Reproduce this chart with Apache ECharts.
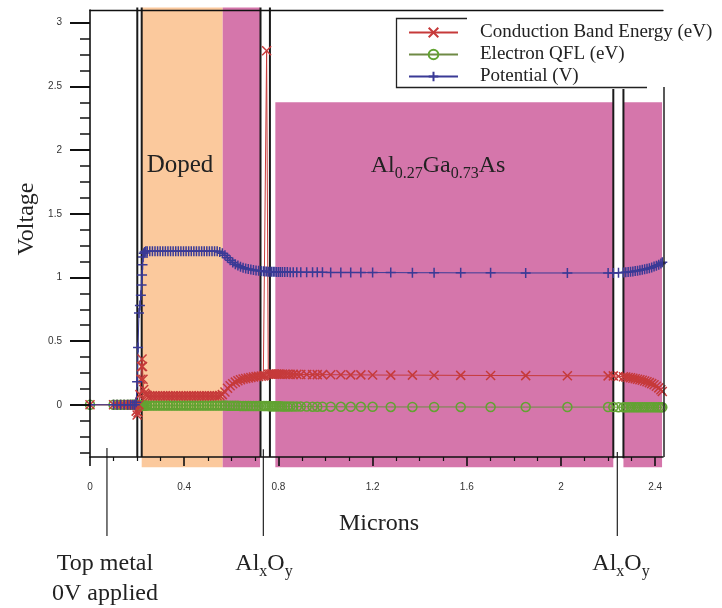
<!DOCTYPE html>
<html>
<head>
<meta charset="utf-8">
<script src="https://cdn.jsdelivr.net/npm/echarts@6/dist/echarts.min.js"></script>
<style>
html,body{margin:0;padding:0;background:#fff;}
#chart{width:722px;height:608px;}
</style>
</head>
<body>
<div id="chart"></div>
<script>
// ---------- data ----------
const seriesNames = ['Conduction Band Energy (eV)', 'Electron QFL (eV)', 'Potential (V)'];

const microns = [
  0, 0.1, 0.115, 0.13, 0.145, 0.16, 0.172, 0.182, 0.19, 0.196,
  0.2, 0.204, 0.208, 0.212, 0.216, 0.219, 0.221, 0.223, 0.225, 0.228, 0.232, 0.237,
  0.243, 0.254, 0.265, 0.276, 0.287, 0.298, 0.309, 0.32, 0.331, 0.342, 0.353, 0.364, 0.375, 0.386, 0.397,
  0.408, 0.419, 0.43, 0.441, 0.452, 0.463, 0.474, 0.485, 0.496, 0.507, 0.518, 0.529, 0.54, 0.551,
  0.562, 0.573, 0.584, 0.595, 0.606, 0.617, 0.628, 0.639, 0.65, 0.661, 0.672, 0.683, 0.694, 0.705, 0.716, 0.727, 0.736,
  0.743, 0.75, 0.757,
  0.764, 0.771, 0.778, 0.785, 0.792, 0.8, 0.808, 0.817, 0.827, 0.838, 0.85, 0.863, 0.878, 0.895, 0.92,
  0.945, 0.965, 0.987, 1.022, 1.065, 1.107, 1.15, 1.2, 1.277, 1.369, 1.461, 1.574, 1.701, 1.85,
  2.027, 2.2, 2.222,
  2.244,
  2.265, 2.275, 2.285, 2.295, 2.305, 2.315, 2.325, 2.335, 2.345, 2.355, 2.365, 2.375, 2.385, 2.395, 2.405, 2.415, 2.424, 2.43
];

const conductionBand = [
  0, 0, 0, 0, 0, 0, 0, 0, 0, -0.05,
  -0.08, -0.06, 0.0, 0.08, 0.2, 0.3, 0.36, 0.3, 0.2, 0.12, 0.09, 0.08,
  0.072, 0.07, 0.07, 0.07, 0.07, 0.07, 0.07, 0.07, 0.07, 0.07, 0.07, 0.07, 0.07, 0.07, 0.07,
  0.07, 0.07, 0.07, 0.07, 0.07, 0.07, 0.07, 0.07, 0.07, 0.07, 0.07, 0.07, 0.07, 0.072,
  0.08, 0.1, 0.13, 0.15, 0.165, 0.178, 0.188, 0.196, 0.202, 0.207, 0.211, 0.215, 0.218, 0.221, 0.223, 0.225, 0.227,
  0.23, 2.78, 0.24,
  0.242, 0.242, 0.242, 0.241, 0.241, 0.241, 0.24, 0.24, 0.24, 0.24, 0.239, 0.239, 0.239, 0.238, 0.238,
  0.237, 0.237, 0.237, 0.236, 0.236, 0.235, 0.235, 0.234, 0.233, 0.233, 0.232, 0.231, 0.23, 0.229,
  0.228, 0.227, 0.227,
  0.224,
  0.22, 0.218, 0.215, 0.212, 0.209, 0.205, 0.201, 0.197, 0.192, 0.187, 0.181, 0.174, 0.166, 0.157, 0.146, 0.133, 0.118, 0.105
];

const electronQFL = [
  0, 0, 0, 0, 0, 0, 0, 0, 0, 0,
  0, -0.002, -0.004, -0.005, -0.005, -0.005, -0.005, -0.005, -0.005, -0.005, -0.005, -0.005,
  -0.005, -0.005, -0.005, -0.005, -0.005, -0.005, -0.005, -0.005, -0.005, -0.005, -0.005, -0.005, -0.005, -0.005, -0.005,
  -0.005, -0.005, -0.005, -0.005, -0.005, -0.005, -0.005, -0.005, -0.005, -0.005, -0.005, -0.005, -0.005, -0.005,
  -0.006, -0.006, -0.007, -0.007, -0.008, -0.008, -0.008, -0.009, -0.009, -0.009, -0.01, -0.01, -0.01, -0.01, -0.01, -0.01, -0.01,
  -0.01, -0.01, -0.01,
  -0.011, -0.011, -0.011, -0.012, -0.012, -0.012, -0.012, -0.013, -0.013, -0.013, -0.013, -0.014, -0.014, -0.014, -0.014,
  -0.015, -0.015, -0.015, -0.015, -0.016, -0.016, -0.016, -0.016, -0.017, -0.017, -0.017, -0.017, -0.018, -0.018,
  -0.018, -0.018, -0.018,
  -0.019,
  -0.02, -0.02, -0.02, -0.02, -0.02, -0.02, -0.02, -0.02, -0.02, -0.02, -0.02, -0.02, -0.02, -0.02, -0.02, -0.02, -0.02, -0.02
];

const potential = [
  0, 0, 0, 0, 0, 0, 0, 0, 0, 0.02,
  0.18, 0.45, 0.72, 0.78, 0.86, 0.94, 1.02, 1.1, 1.16, 1.19, 1.2, 1.205,
  1.205, 1.205, 1.205, 1.205, 1.205, 1.205, 1.205, 1.205, 1.205, 1.205, 1.205, 1.205, 1.205, 1.205, 1.205,
  1.205, 1.205, 1.205, 1.205, 1.205, 1.205, 1.205, 1.205, 1.205, 1.205, 1.205, 1.205, 1.205, 1.2,
  1.19, 1.175, 1.155, 1.135, 1.118, 1.104, 1.093, 1.084, 1.077, 1.071, 1.066, 1.062, 1.058, 1.055, 1.052, 1.05, 1.048,
  1.047, 1.046, 1.045,
  1.045, 1.045, 1.044, 1.044, 1.043, 1.043, 1.043, 1.042, 1.042, 1.042, 1.041, 1.041, 1.041, 1.04, 1.04,
  1.04, 1.04, 1.04, 1.039, 1.039, 1.039, 1.038, 1.038, 1.038, 1.037, 1.037, 1.036, 1.036, 1.035,
  1.035, 1.035, 1.035,
  1.036,
  1.038, 1.04, 1.042, 1.044, 1.047, 1.05, 1.053, 1.056, 1.06, 1.064, 1.068, 1.073, 1.079, 1.085, 1.092, 1.1, 1.11, 1.12
];

// axis ticks / labels
const xTickLabels = [0, 0.4, 0.8, 1.2, 1.6, 2, 2.4];
const xMinorTicks = [0.1, 0.2, 0.3, 0.5, 0.6, 0.7, 0.9, 1.0, 1.1, 1.3, 1.4, 1.5, 1.7, 1.8, 1.9, 2.1, 2.2, 2.3];
const yTickLabels = [0, 0.5, 1, 1.5, 2, 2.5, 3];
const yMinorTicks = [-0.375, -0.25, -0.125, 0.125, 0.25, 0.375, 0.625, 0.75, 0.875, 1.125, 1.25, 1.375,
  1.625, 1.75, 1.875, 2.125, 2.25, 2.375, 2.625, 2.75, 2.875];

// layer regions (microns / volts)
const regionStart = [0.2195, 0.5635, 0.787, 2.265];
const regionEnd = [0.5635, 0.722, 2.222, 2.429];
const regionTop = [3.12, 3.12, 2.375, 2.375];
const regionBottom = [-0.49, -0.49, -0.49, -0.49];
const regionKind = ['doped', 'barrier', 'barrier', 'barrier'];

// interface boundaries
const interfaceX = [0.2008, 0.2195, 0.724, 0.764, 2.222, 2.265];
const interfaceTop = [3.12, 3.12, 3.12, 3.12, 2.48, 2.48];
const interfaceBottom = [-0.41, -0.41, -0.41, -0.41, -0.42, -0.42];

// annotation pointer lines
const annotX = [0.072, 0.736, 2.239];
const annotTop = [-0.34, -0.35, -0.37];
const annotBottom = [-1.03, -1.03, -1.03];

// ---------- styles ----------
const regionColors = { doped: '#fbc99d', barrier: '#d576ab' };
const serif = '"Liberation Serif", "DejaVu Serif", serif';
const sans = '"Liberation Sans", Arial, sans-serif';
const redC = '#c63a3a', greenC = '#62a332', blueC = '#3a3a96';

const chart = echarts.init(document.getElementById('chart'), null, { renderer: 'canvas' });

const X_MIN = 0, X_MAX = 2.433, Y_MIN = -0.41, Y_MAX = 3.1;

function pairs(ys) { return microns.map((x, i) => [x, ys[i]]); }

const subRich = {
  m: { fontFamily: serif, fontSize: 24, color: '#222', verticalAlign: 'bottom', padding: [0, 0, 4, 0] },
  s: { fontFamily: serif, fontSize: 16, color: '#222', verticalAlign: 'bottom' }
};

const option = {
  animation: false,
  backgroundColor: '#fff',
  grid: { left: 90, top: 10, width: 573, height: 447 },
  xAxis: [
    {
      type: 'value', min: X_MIN, max: X_MAX, position: 'bottom', z: 10,
      axisLine: { show: true, onZero: false, lineStyle: { color: '#111', width: 1.6 } },
      axisTick: { show: true, customValues: xTickLabels, length: 9, lineStyle: { color: '#111', width: 1.6 } },
      axisLabel: { show: true, customValues: xTickLabels, margin: 25, fontSize: 10, fontFamily: sans, color: '#333' },
      splitLine: { show: false }
    },
    {
      type: 'value', min: X_MIN, max: X_MAX, position: 'bottom', z: 10,
      axisLine: { show: false, onZero: false },
      axisTick: { show: true, customValues: xMinorTicks, length: 4, lineStyle: { color: '#111', width: 1.2 } },
      axisLabel: { show: false },
      splitLine: { show: false }
    },
    {
      type: 'value', min: X_MIN, max: X_MAX, position: 'top', z: 10,
      axisLine: { show: true, onZero: false, lineStyle: { color: '#111', width: 1.3 } },
      axisTick: { show: false }, axisLabel: { show: false }, splitLine: { show: false }
    }
  ],
  yAxis: [
    {
      type: 'value', min: Y_MIN, max: Y_MAX, position: 'left', z: 10,
      axisLine: { show: true, onZero: false, lineStyle: { color: '#111', width: 1.6 } },
      axisTick: { show: true, customValues: yTickLabels, length: 20, lineStyle: { color: '#111', width: 2 } },
      axisLabel: { show: true, customValues: yTickLabels, margin: 28, fontSize: 10, fontFamily: sans, color: '#333' },
      splitLine: { show: false }
    },
    {
      type: 'value', min: Y_MIN, max: Y_MAX, position: 'left', z: 10,
      axisLine: { show: false, onZero: false },
      axisTick: { show: true, customValues: yMinorTicks, length: 10, lineStyle: { color: '#111', width: 1.5 } },
      axisLabel: { show: false }, splitLine: { show: false }
    }
  ],
  legend: {
    data: seriesNames,
    orient: 'vertical',
    left: 408, top: 23,
    padding: 0,
    itemWidth: 49, itemHeight: 12, itemGap: 3,
    textStyle: { fontFamily: serif, fontSize: 19, lineHeight: 19, color: '#222', padding: [0, 0, 0, 17] }
  },
  graphic: [
    { type: 'polyline', z: 20, shape: { points: [[467, 18.5], [396.5, 18.5], [396.5, 87.5], [647, 87.5]] },
      style: { stroke: '#222', lineWidth: 1.3, fill: null } },
    { type: 'line', z: 20, shape: { x1: 664, y1: 87, x2: 664, y2: 457 }, style: { stroke: '#222', lineWidth: 1.5 } },
    { type: 'text', z: 20, x: 27, y: 219, rotation: Math.PI / 2,
      style: { text: 'Voltage', font: '24px ' + serif, fill: '#222', align: 'center', verticalAlign: 'middle' } },
    { type: 'text', z: 20, x: 379, y: 524,
      style: { text: 'Microns', font: '24px ' + serif, fill: '#222', align: 'center', verticalAlign: 'middle' } },
    { type: 'text', z: 20, x: 105, y: 564,
      style: { text: 'Top metal', font: '24px ' + serif, fill: '#222', align: 'center', verticalAlign: 'middle' } },
    { type: 'text', z: 20, x: 105, y: 594,
      style: { text: '0V applied', font: '24px ' + serif, fill: '#222', align: 'center', verticalAlign: 'middle' } },
    { type: 'text', z: 20, x: 264, y: 566,
      style: { text: '{m|Al}{s|x}{m|O}{s|y}', align: 'center', verticalAlign: 'middle', fill: '#222', rich: subRich } },
    { type: 'text', z: 20, x: 621, y: 566,
      style: { text: '{m|Al}{s|x}{m|O}{s|y}', align: 'center', verticalAlign: 'middle', fill: '#222', rich: subRich } },
    { type: 'text', z: 20, x: 180, y: 165,
      style: { text: 'Doped', font: '25px ' + serif, fill: '#222', align: 'center', verticalAlign: 'middle' } },
    { type: 'text', z: 20, x: 438, y: 168,
      style: { text: '{m|Al}{s|0.27}{m|Ga}{s|0.73}{m|As}', align: 'center', verticalAlign: 'middle', fill: '#222', rich: subRich } }
  ],
  series: [
    {
      type: 'custom', name: 'regions', clip: false, silent: true, z: 1,
      xAxisIndex: 0, yAxisIndex: 0,
      encode: { x: [0, 1], y: [2, 3] },
      data: regionStart.map((s, i) => [s, regionEnd[i], regionTop[i], regionBottom[i]]),
      renderItem: function (params, api) {
        const p0 = api.coord([api.value(0), api.value(2)]);
        const p1 = api.coord([api.value(1), api.value(3)]);
        return { type: 'rect', shape: { x: p0[0], y: p0[1], width: p1[0] - p0[0], height: p1[1] - p0[1] },
                 style: { fill: regionColors[regionKind[params.dataIndex]] } };
      }
    },
    {
      type: 'custom', name: 'interfaces', clip: false, silent: true, z: 3,
      xAxisIndex: 0, yAxisIndex: 0,
      encode: { x: 0, y: [1, 2] },
      data: interfaceX.map((x, i) => [x, interfaceTop[i], interfaceBottom[i]]),
      renderItem: function (params, api) {
        const a = api.coord([api.value(0), api.value(1)]);
        const b = api.coord([api.value(0), api.value(2)]);
        return { type: 'line', shape: { x1: a[0], y1: a[1], x2: b[0], y2: b[1] }, style: { stroke: '#1a1a1a', lineWidth: 2 } };
      }
    },
    {
      type: 'custom', name: 'pointers', clip: false, silent: true, z: 3,
      xAxisIndex: 0, yAxisIndex: 0,
      encode: { x: 0, y: [1, 2] },
      data: annotX.map((x, i) => [x, annotTop[i], annotBottom[i]]),
      renderItem: function (params, api) {
        const a = api.coord([api.value(0), api.value(1)]);
        const b = api.coord([api.value(0), api.value(2)]);
        return { type: 'line', shape: { x1: a[0], y1: a[1], x2: b[0], y2: b[1] }, style: { stroke: '#222', lineWidth: 1.2 } };
      }
    },
    {
      type: 'line', name: seriesNames[1], data: pairs(electronQFL), z: 4,
      symbol: 'circle', symbolSize: 9, showAllSymbol: true,
      lineStyle: { color: '#6f8a45', width: 1 },
      itemStyle: { color: 'rgba(0,0,0,0)', borderColor: greenC, borderWidth: 1.5 }
    },
    {
      type: 'line', name: seriesNames[0], data: pairs(conductionBand), z: 5,
      symbol: 'path://M0,0L10,10M10,0L0,10', symbolSize: 9, showAllSymbol: true,
      lineStyle: { color: redC, width: 1 },
      itemStyle: { color: redC, borderColor: redC, borderWidth: 1.5 }
    },
    {
      type: 'line', name: seriesNames[2], data: pairs(potential), z: 5,
      symbol: 'path://M5,0L5,10M0,5L10,5', symbolSize: 10, showAllSymbol: true,
      lineStyle: { color: blueC, width: 1 },
      itemStyle: { color: blueC, borderColor: blueC, borderWidth: 1.5 }
    }
  ]
};

chart.setOption(option);
</script>
</body>
</html>
